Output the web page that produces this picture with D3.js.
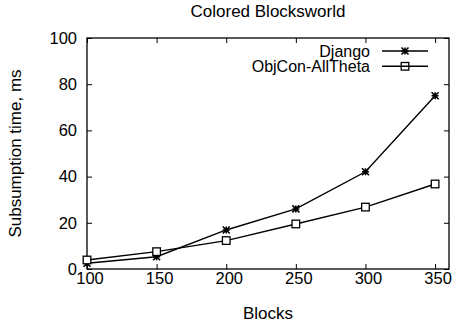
<!DOCTYPE html>
<html>
<head>
<meta charset="utf-8">
<script src="https://cdn.jsdelivr.net/npm/d3@7"></script>
<style>
  html, body { margin: 0; padding: 0; background: #fff; }
  svg { display: block; font-family: "Liberation Sans", Arial, Helvetica, sans-serif; }
</style>
</head>
<body>
<svg id="chart" width="453" height="327"></svg>
<script>
// Problem sizes (number of blocks)
const blocks = [100, 150, 200, 250, 300, 350];
// Subsumption time in ms for each reasoner
const django = [2.5, 5.3, 16.9, 26.0, 42.1, 75.0];
const objCon = [3.9, 7.5, 12.3, 19.5, 26.8, 36.8];
const seriesNames = ["Django", "ObjCon-AllTheta"];
const xTicks = [100, 150, 200, 250, 300, 350];
const yTicks = [0, 20, 40, 60, 80, 100];

const svg = d3.select("#chart");
const margin = { left: 87, right: 4, top: 38, bottom: 58 };
const W = 453, H = 327;
const x = d3.scaleLinear().domain([100, 360]).range([margin.left, W - margin.right]);
const y = d3.scaleLinear().domain([0, 100]).range([H - margin.bottom, margin.top]);
const tickFs = "16.5px", labelFs = "17px", legendFs = "16px";

// Plot frame
svg.append("rect")
  .attr("x", x(100)).attr("y", y(100))
  .attr("width", x(360) - x(100)).attr("height", y(0) - y(100))
  .attr("fill", "none").attr("stroke", "#000").attr("stroke-width", 1.3);

// Axes with inward ticks, mirrored on opposite sides
const tl = 5;
const gx = svg.append("g").attr("transform", `translate(0,${y(0)})`)
  .call(d3.axisBottom(x).tickValues(xTicks).tickSizeInner(-tl).tickSizeOuter(0).tickPadding(3.5));
const gxt = svg.append("g").attr("transform", `translate(0,${y(100)})`)
  .call(d3.axisTop(x).tickValues(xTicks).tickSizeInner(-tl).tickSizeOuter(0).tickFormat(""));
const gy = svg.append("g").attr("transform", `translate(${x(100)},0)`)
  .call(d3.axisLeft(y).tickValues(yTicks).tickSizeInner(-tl).tickSizeOuter(0).tickPadding(10));
const gyr = svg.append("g").attr("transform", `translate(${x(360)},0)`)
  .call(d3.axisRight(y).tickValues(yTicks).tickSizeInner(-tl).tickSizeOuter(0).tickFormat(""));
[gx, gxt, gy, gyr].forEach(g => {
  g.select(".domain").remove();
  g.selectAll("line").attr("stroke", "#000").attr("stroke-width", 1);
  g.selectAll("text").attr("fill", "#000").style("font-size", tickFs).style("font-family", "Liberation Sans, Arial, sans-serif");
});
gx.selectAll("text").attr("dx", 2.5);

// Titles
svg.append("text").attr("x", 268).attr("y", 17).attr("text-anchor", "middle")
  .style("font-size", labelFs).text("Colored Blocksworld");
svg.append("text").attr("x", 268).attr("y", 319).attr("text-anchor", "middle")
  .style("font-size", labelFs).text("Blocks");
svg.append("text").attr("transform", `translate(21,${(y(0) + y(100)) / 2}) rotate(-90)`)
  .attr("text-anchor", "middle").style("font-size", labelFs).text("Subsumption time, ms");

// Marker drawers
function star(g, cx, cy) {
  const r = 3.5;
  g.append("path")
    .attr("d", `M${cx - r},${cy}H${cx + r}M${cx},${cy - r}V${cy + r}M${cx - r},${cy - r}L${cx + r},${cy + r}M${cx - r},${cy + r}L${cx + r},${cy - r}`)
    .attr("stroke", "#000").attr("stroke-width", 1.6).attr("fill", "none");
}
function square(g, cx, cy) {
  const r = 3.8;
  g.append("rect").attr("x", cx - r).attr("y", cy - r).attr("width", 2 * r).attr("height", 2 * r)
    .attr("fill", "#fff").attr("stroke", "#000").attr("stroke-width", 1.3);
}

const line = d3.line().x(d => x(d[0])).y(d => y(d[1]));
const series = [
  { name: seriesNames[0], values: django, mark: star },
  { name: seriesNames[1], values: objCon, mark: square }
];

series.forEach((s, i) => {
  const pts = blocks.map((b, j) => [b, s.values[j]]);
  svg.append("path").datum(pts).attr("d", line)
    .attr("fill", "none").attr("stroke", "#000").attr("stroke-width", 1.4);
  const g = svg.append("g");
  pts.forEach(p => s.mark(g, x(p[0]), y(p[1])));

  // Legend entry
  const ly = 51 + i * 15.3;
  svg.append("text").attr("x", 370).attr("y", ly + 5.5).attr("text-anchor", "end")
    .style("font-size", legendFs).text(s.name);
  svg.append("line").attr("x1", 382).attr("x2", 428).attr("y1", ly).attr("y2", ly)
    .attr("stroke", "#000").attr("stroke-width", 1.4);
  s.mark(g, 405, ly);
});
</script>
</body>
</html>
